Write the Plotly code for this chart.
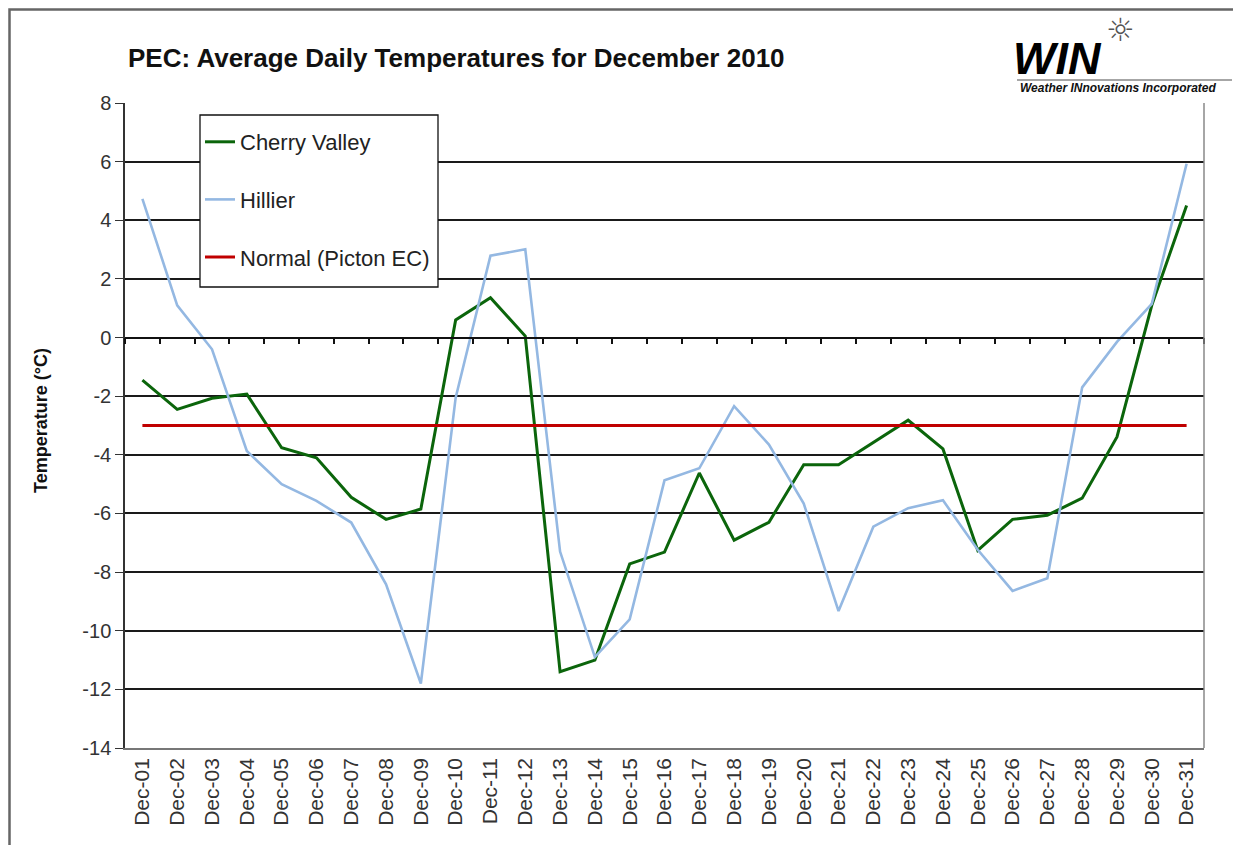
import plotly.graph_objects as go

days = ["Dec-01", "Dec-02", "Dec-03", "Dec-04", "Dec-05", "Dec-06", "Dec-07", "Dec-08",
        "Dec-09", "Dec-10", "Dec-11", "Dec-12", "Dec-13", "Dec-14", "Dec-15", "Dec-16",
        "Dec-17", "Dec-18", "Dec-19", "Dec-20", "Dec-21", "Dec-22", "Dec-23", "Dec-24",
        "Dec-25", "Dec-26", "Dec-27", "Dec-28", "Dec-29", "Dec-30", "Dec-31"]

cherry_valley = [-1.45, -2.45, -2.07, -1.93, -3.76, -4.10, -5.45, -6.20, -5.85, 0.60,
                 1.36, 0.05, -11.40, -11.00, -7.72, -7.32, -4.62, -6.91, -6.30, -4.34,
                 -4.34, -3.59, -2.82, -3.80, -7.26, -6.20, -6.06, -5.48, -3.39, 1.10, 4.50]

hillier = [4.73, 1.10, -0.40, -3.87, -5.00, -5.57, -6.31, -8.42, -11.80, -2.05,
           2.79, 3.01, -7.30, -10.90, -9.61, -4.87, -4.46, -2.34, -3.65, -5.66,
           -9.33, -6.45, -5.82, -5.55, -7.24, -8.64, -8.21, -1.70, -0.15, 1.15, 5.93]

normal_picton = [-3.0, -3.0, -3.0, -3.0, -3.0, -3.0, -3.0, -3.0, -3.0, -3.0,
                 -3.0, -3.0, -3.0, -3.0, -3.0, -3.0, -3.0, -3.0, -3.0, -3.0,
                 -3.0, -3.0, -3.0, -3.0, -3.0, -3.0, -3.0, -3.0, -3.0, -3.0, -3.0]

y_ticks = [8, 6, 4, 2, 0, -2, -4, -6, -8, -10, -12, -14]
y_tick_labels = ["8", "6", "4", "2", "0", "-2", "-4", "-6", "-8", "-10", "-12", "-14"]

# page layout (the page body adds an 8 px offset)
OFF = 8
W, H = 1241 - OFF, 845 - OFF
L, R, T, B = 125, 1204, 103, 748  # plot area in page pixels


def px(xp):
    return (xp - L) / (R - L)


def py(yp):
    return (B - yp) / (B - T)


font = "Liberation Sans, Arial, sans-serif"

fig = go.Figure()
fig.add_trace(go.Scatter(x=days, y=cherry_valley, mode="lines", name="Cherry Valley",
                         line=dict(color="#0b650b", width=3), legendgroup="a"))
fig.add_trace(go.Scatter(x=days, y=hillier, mode="lines", name="Hillier",
                         line=dict(color="#94b8e2", width=2.6), legendgroup="b"))
fig.add_trace(go.Scatter(x=days, y=normal_picton, mode="lines", name="Normal (Picton EC)",
                         line=dict(color="#c00000", width=3), legendgroup="c",
                         xaxis="x2", yaxis="y"))

fig.update_layout(
    width=W, height=H,
    margin=dict(l=L - OFF, r=W - (R - OFF), t=T - OFF, b=H - (B - OFF), pad=0),
    paper_bgcolor="white", plot_bgcolor="white",
    font=dict(family=font, color="#222"),
    title=dict(text="<b>PEC: Average Daily Temperatures for December 2010</b>",
               x=(128 - OFF) / W, xanchor="left", y=1 - (58 - OFF) / H, yanchor="middle",
               font=dict(size=26, color="#111")),
    xaxis=dict(type="category", categoryorder="array", categoryarray=days,
               range=[-0.5, 30.5], showgrid=False, showline=True, linecolor="#777",
               linewidth=1.5, mirror=False, ticks="", tickangle=-90,
               tickfont=dict(size=21, color="#333"), zeroline=False),
    xaxis2=dict(type="category", categoryorder="array", categoryarray=days,
                range=[-0.5, 30.5], overlaying="x", anchor="free", position=14 / 22,
                side="bottom", showgrid=False, showline=True, linecolor="#111",
                linewidth=1.5, ticks="outside", tickson="boundaries", ticklen=6,
                tickwidth=1.5, tickcolor="#111", showticklabels=False, zeroline=False),
    yaxis=dict(range=[-14, 8], tickvals=y_ticks, ticktext=y_tick_labels,
               showgrid=True, gridcolor="#1a1a1a",
               gridwidth=1.5, zeroline=False, showline=True, linecolor="#333",
               linewidth=1.5, ticks="outside", ticklen=8, tickcolor="#333",
               tickfont=dict(size=20, color="#333")),
    legend=dict(x=px(200), y=py(121), xanchor="left", yanchor="top",
                bgcolor="rgba(0,0,0,0)", borderwidth=0,
                font=dict(size=22, color="#222"), tracegroupgap=26,
                traceorder="grouped"),
    showlegend=True,
)

# legend frame (white box covering gridlines, as in the reference)
fig.add_shape(type="rect", xref="paper", yref="paper", x0=px(200), x1=px(438),
              y0=py(287), y1=py(115), layer="above", fillcolor="white",
              line=dict(color="#111", width=1.3))
# right plot border
fig.add_shape(type="line", xref="paper", yref="paper", x0=1, x1=1, y0=0, y1=1,
              line=dict(color="#888", width=1.5))
# outer frame
fig.add_shape(type="rect", xref="paper", yref="paper", x0=px(9.5), x1=px(1260),
              y0=py(860), y1=py(9.5), line=dict(color="#666", width=2.5))

# y-axis title
fig.add_annotation(text="<b>Temperature (°C)</b>", xref="paper", yref="paper",
                   x=px(41), y=py(421), textangle=-90, showarrow=False,
                   xanchor="center", yanchor="middle",
                   font=dict(size=18, color="#111"))

# WIN logo
fig.add_annotation(text="<b><i>WIN</i></b>", xref="paper", yref="paper",
                   x=px(1057), y=py(58), showarrow=False, xanchor="center", yanchor="middle",
                   font=dict(size=45, color="#000", family="Liberation Sans"))
fig.add_annotation(text="☼", xref="paper", yref="paper",
                   x=px(1120), y=py(30), showarrow=False, xanchor="center", yanchor="middle",
                   font=dict(size=32, color="#555", family="DejaVu Sans"))
fig.add_shape(type="line", xref="paper", yref="paper", x0=px(1017), x1=px(1232),
              y0=py(80), y1=py(80), line=dict(color="#888", width=1.5))
fig.add_annotation(text="<b><i>Weather INnovations Incorporated</i></b>",
                   xref="paper", yref="paper", x=px(1118), y=py(88), showarrow=False,
                   xanchor="center", yanchor="middle",
                   font=dict(size=12, color="#111", family="Liberation Sans"))

fig.write_html("out.html")
